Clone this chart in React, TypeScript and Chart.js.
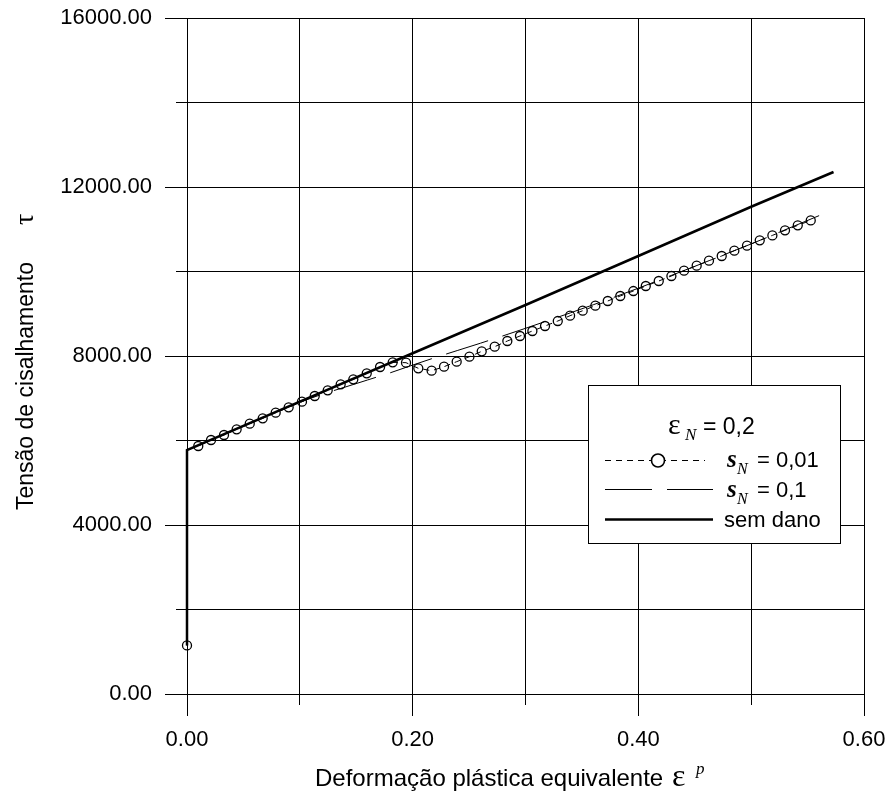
import React, { useEffect, useRef } from 'react';
import { Chart, registerables } from 'chart.js';

Chart.register(...registerables);

// ---- data ----
const semDanoX = [0, 0, 0.1, 0.2, 0.3, 0.4, 0.5, 0.573];
const semDanoY = [1150, 5775, 6920, 8065, 9207, 10367, 11533, 12355];

// first two points (x = 0) carry no marker except the very first
const sN001X = [0, 0, 0.0100, 0.0213, 0.0328, 0.0440, 0.0556, 0.0671, 0.0786, 0.0901, 0.1019, 0.1132,
  0.1247, 0.1362, 0.1474, 0.1593, 0.1711, 0.1823, 0.1941, 0.2050, 0.2168, 0.2278, 0.2390, 0.2503,
  0.2612, 0.2727, 0.2839, 0.2951, 0.3061, 0.3173, 0.3286, 0.3395, 0.3507, 0.3619, 0.3729, 0.3840,
  0.3956, 0.4066, 0.4181, 0.4293, 0.4405, 0.4517, 0.4626, 0.4739, 0.4851, 0.4963, 0.5076, 0.5188,
  0.5300, 0.5413, 0.5528];
const sN001Y = [1150, 5775, 5870, 6012, 6130, 6265, 6398, 6525, 6658, 6785, 6918, 7053,
  7188, 7330, 7448, 7590, 7740, 7850, 7842, 7709, 7652, 7747, 7866, 7983,
  8110, 8221, 8355, 8473, 8592, 8710, 8828, 8954, 9072, 9191, 9302, 9420,
  9538, 9657, 9775, 9893, 10019, 10137, 10256, 10367, 10493, 10611, 10737, 10855,
  10974, 11092, 11210];
const sN001Marked = [true, false];

const sN01X = [0, 0, 0.10, 0.12, 0.14, 0.16, 0.18, 0.20, 0.22, 0.24, 0.26, 0.28, 0.30, 0.32, 0.34,
  0.36, 0.38, 0.40, 0.45, 0.50, 0.563];
const sN01Y = [1150, 5775, 6905, 7099, 7263, 7432, 7601, 7785, 7964, 8133, 8302, 8476, 8655, 8839, 9023,
  9212, 9406, 9605, 10122, 10652, 11353];

const xTickValues = [0, 0.2, 0.4, 0.6];
const xTickLabels = ['0.00', '0.20', '0.40', '0.60'];
const yTickValues = [0, 4000, 8000, 12000, 16000];
const yTickLabels = ['0.00', '4000.00', '8000.00', '12000.00', '16000.00'];

const xTitle = 'Deformação plástica equivalente';
const yTitle = 'Tensão de cisalhamento';
const legendTitle = '= 0,2';
const legendLabels = ['= 0,01', '= 0,1', 'sem dano'];

const SANS = '"Liberation Sans", Arial, Helvetica, sans-serif';
const SERIF = '"Liberation Serif", "Times New Roman", serif';

const pts = (xs: number[], ys: number[]) => xs.map((x, i) => ({ x, y: ys[i] }));

const findLabel = (vals: number[], labels: string[], v: number) => {
  const i = vals.findIndex((t) => Math.abs(t - v) < 1e-9 * Math.max(1, Math.abs(t)));
  return i >= 0 ? labels[i] : '';
};

const align = (p: number) => Math.round(p - 0.5) + 0.5;

const decorPlugin = {
  id: 'decor',
  afterDraw(chart: any) {
    const { ctx, chartArea: ca, scales } = chart;
    const xs = scales.x;
    const ys = scales.y;
    ctx.save();
    ctx.strokeStyle = '#000';
    ctx.lineWidth = 1;
    // minor tick marks
    ys.ticks.forEach((t: any, i: number) => {
      if (i % 2 === 1) {
        const y = align(ys.getPixelForValue(t.value));
        ctx.beginPath();
        ctx.moveTo(ca.left - 11, y);
        ctx.lineTo(ca.left, y);
        ctx.stroke();
      }
    });
    xs.ticks.forEach((t: any, i: number) => {
      if (i % 2 === 1) {
        const x = align(xs.getPixelForValue(t.value));
        ctx.beginPath();
        ctx.moveTo(x, ca.bottom);
        ctx.lineTo(x, ca.bottom + 11);
        ctx.stroke();
      }
    });

    ctx.fillStyle = '#000';
    ctx.textBaseline = 'alphabetic';
    ctx.textAlign = 'left';
    // x title
    ctx.font = `24px ${SANS}`;
    ctx.fillText(xTitle, 315, 786);
    ctx.font = `32px ${SERIF}`;
    ctx.fillText('ε', 672, 786);
    ctx.font = `italic 17px ${SERIF}`;
    ctx.fillText('p', 696, 774);

    // y title
    ctx.save();
    ctx.translate(33, 510);
    ctx.rotate(-Math.PI / 2);
    ctx.font = `23px ${SANS}`;
    ctx.fillText(yTitle, 0, 0);
    ctx.font = `28px ${SERIF}`;
    ctx.fillText('τ', 285, 0);
    ctx.restore();

    // legend box
    const bx = 588.5, by = 385.5, bw = 252, bh = 158;
    ctx.fillStyle = '#fff';
    ctx.fillRect(bx, by, bw, bh);
    ctx.strokeStyle = '#000';
    ctx.lineWidth = 1;
    ctx.strokeRect(bx, by, bw, bh);
    ctx.fillStyle = '#000';

    // legend title
    ctx.font = `30px ${SERIF}`;
    ctx.fillText('ε', 668, 434);
    ctx.font = `italic 17px ${SERIF}`;
    ctx.fillText('N', 685, 440);
    ctx.font = `23px ${SANS}`;
    ctx.fillText(legendTitle, 703, 434);

    // row 1: short dash + circle
    ctx.lineWidth = 1;
    ctx.setLineDash([6, 5]);
    ctx.beginPath();
    ctx.moveTo(605, 460.5);
    ctx.lineTo(705, 460.5);
    ctx.stroke();
    ctx.setLineDash([]);
    ctx.fillStyle = '#fff';
    ctx.beginPath();
    ctx.arc(658, 460.5, 6.5, 0, Math.PI * 2);
    ctx.fill();
    ctx.lineWidth = 1.6;
    ctx.stroke();
    ctx.fillStyle = '#000';

    // row 2: long dash
    ctx.lineWidth = 1;
    ctx.beginPath();
    ctx.moveTo(605, 489.5);
    ctx.lineTo(652, 489.5);
    ctx.moveTo(667, 489.5);
    ctx.lineTo(713, 489.5);
    ctx.stroke();

    // row 3: solid
    ctx.lineWidth = 2.5;
    ctx.beginPath();
    ctx.moveTo(605, 519.5);
    ctx.lineTo(713, 519.5);
    ctx.stroke();

    // legend labels
    const rowsY = [467, 497];
    rowsY.forEach((yy, i) => {
      ctx.font = `italic bold 25px ${SERIF}`;
      ctx.fillText('s', 727, yy);
      ctx.font = `italic 16px ${SERIF}`;
      ctx.fillText('N', 737, yy + 7);
      ctx.font = `22px ${SANS}`;
      ctx.fillText(legendLabels[i], 757, yy);
    });
    ctx.font = `22px ${SANS}`;
    ctx.fillText(legendLabels[2], 724, 527);

    ctx.restore();
  },
};

export default function App() {
  const ref = useRef<HTMLCanvasElement | null>(null);
  useEffect(() => {
    if (!ref.current) return;
    const chart = new Chart(ref.current, {
      type: 'line',
      data: {
        datasets: [
          {
            label: 'sem dano',
            data: pts(semDanoX, semDanoY),
            borderColor: '#000',
            borderWidth: 2.5,
            pointRadius: 0,
            fill: false,
            tension: 0,
            clip: false,
          },
          {
            label: 'sN = 0,01',
            data: pts(sN001X, sN001Y),
            borderColor: '#000',
            borderWidth: 1,
            borderDash: [6, 5],
            pointRadius: (c: any) => (c.dataIndex < sN001Marked.length && !sN001Marked[c.dataIndex] ? 0 : 4.5),
            pointStyle: 'circle',
            pointBorderColor: '#000',
            pointBackgroundColor: 'rgba(0,0,0,0)',
            pointBorderWidth: 1.3,
            fill: false,
            tension: 0,
            clip: false,
          },
          {
            label: 'sN = 0,1',
            data: pts(sN01X, sN01Y),
            borderColor: '#000',
            borderWidth: 1,
            borderDash: [44, 15],
            pointRadius: 0,
            fill: false,
            tension: 0,
            clip: false,
          },
        ],
      },
      options: {
        animation: false,
        responsive: false,
        maintainAspectRatio: false,
        layout: { padding: { top: 18, right: 26, left: 0, bottom: 0 } },
        plugins: {
          legend: { display: false },
          tooltip: { enabled: false },
          title: { display: false },
        },
        scales: {
          x: {
            type: 'linear',
            min: 0,
            max: 0.6,
            border: { display: false },
            grid: {
              color: '#000',
              lineWidth: 1,
              tickLength: 22,
              tickColor: (c: any) => (c.index % 2 === 0 ? '#000' : 'rgba(0,0,0,0)'),
            },
            ticks: {
              stepSize: 0.1,
              autoSkip: false,
              maxRotation: 0,
              padding: 11,
              color: '#000',
              font: { family: SANS, size: 22 },
              callback: (v: any) => findLabel(xTickValues, xTickLabels, Number(v)),
            },
            afterFit: (s: any) => {
              s.height = 100;
              s.paddingLeft = 0;
              s.paddingRight = 0;
              s.paddingTop = 0;
              s.paddingBottom = 0;
            },
          },
          y: {
            type: 'linear',
            min: 0,
            max: 16000,
            border: { display: false },
            grid: {
              color: '#000',
              lineWidth: 1,
              tickLength: 22,
              tickColor: (c: any) => (c.index % 2 === 0 ? '#000' : 'rgba(0,0,0,0)'),
            },
            ticks: {
              stepSize: 2000,
              autoSkip: false,
              padding: 13,
              color: '#000',
              font: { family: SANS, size: 22 },
              callback: (v: any) => findLabel(yTickValues, yTickLabels, Number(v)),
            },
            afterFit: (s: any) => {
              s.width = 187;
              s.paddingLeft = 0;
              s.paddingRight = 0;
              s.paddingTop = 0;
              s.paddingBottom = 0;
            },
          },
        },
      },
      plugins: [decorPlugin],
    });
    return () => chart.destroy();
  }, []);
  return (
    <div style={{ position: 'absolute', left: 0, top: 0, width: 890, height: 794, background: '#fff' }}>
      <canvas ref={ref} width={890} height={794} style={{ display: 'block' }} />
    </div>
  );
}
